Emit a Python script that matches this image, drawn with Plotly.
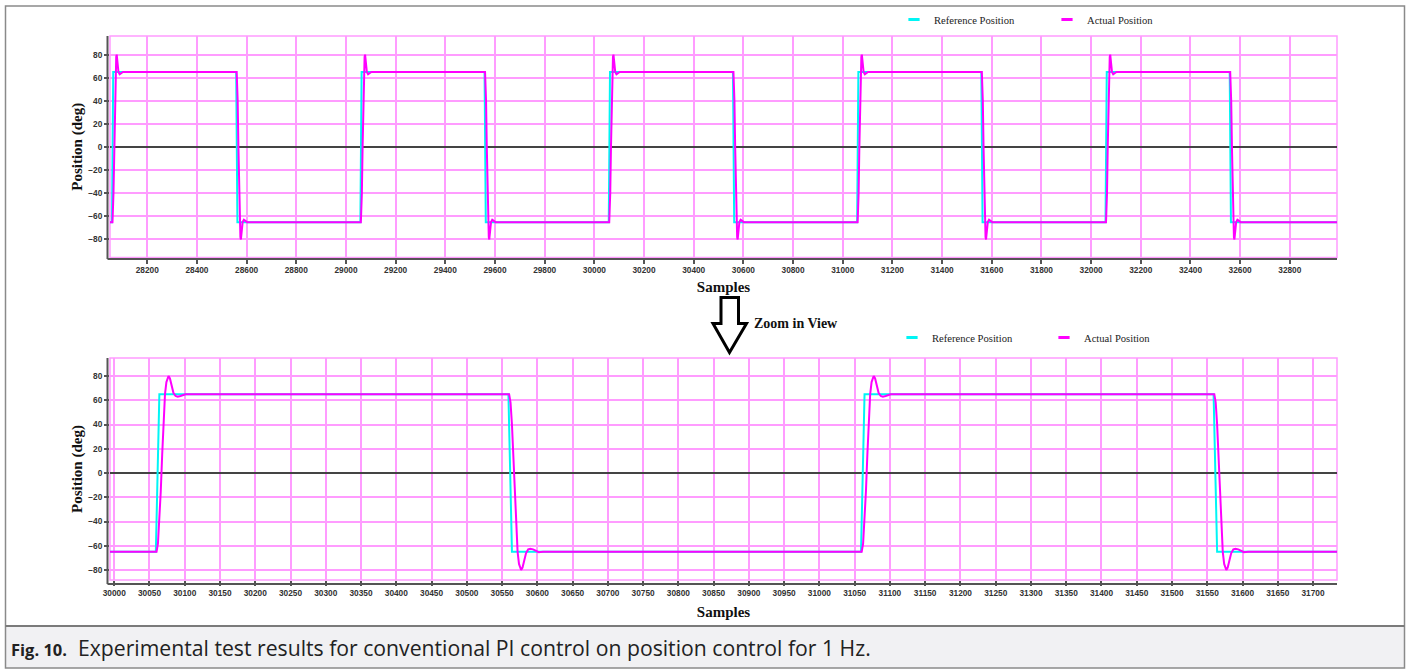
import plotly.graph_objects as go

# ---------------- data ----------------
# Top panel: full view
ref_top_x = [28050, 28058, 28063, 28558, 28563, 29058, 29063, 29558, 29563,
             30058, 30063, 30558, 30563, 31058, 31063, 31558, 31563,
             32058, 32063, 32558, 32563, 32990]
ref_top_y = [-65, -65, 65, 65, -65, -65, 65, 65, -65,
             -65, 65, 65, -65, -65, 65, 65, -65,
             -65, 65, 65, -65, -65]

act_top_x = [28050,
             28060, 28064, 28067, 28070, 28072, 28075, 28077, 28080, 28084, 28089, 28095, 28102,
             28560, 28564, 28567, 28570, 28572, 28575, 28577, 28580, 28584, 28589, 28595, 28602,
             29060, 29064, 29067, 29070, 29072, 29075, 29077, 29080, 29084, 29089, 29095, 29102,
             29560, 29564, 29567, 29570, 29572, 29575, 29577, 29580, 29584, 29589, 29595, 29602,
             30060, 30064, 30067, 30070, 30072, 30075, 30077, 30080, 30084, 30089, 30095, 30102,
             30560, 30564, 30567, 30570, 30572, 30575, 30577, 30580, 30584, 30589, 30595, 30602,
             31060, 31064, 31067, 31070, 31072, 31075, 31077, 31080, 31084, 31089, 31095, 31102,
             31560, 31564, 31567, 31570, 31572, 31575, 31577, 31580, 31584, 31589, 31595, 31602,
             32060, 32064, 32067, 32070, 32072, 32075, 32077, 32080, 32084, 32089, 32095, 32102,
             32560, 32564, 32567, 32570, 32572, 32575, 32577, 32580, 32584, 32589, 32595, 32602,
             32990]
act_top_y = [-65,
             -65, -40, 0, 45, 65, 78, 80, 74, 65, 63, 64, 65,
             65, 40, 0, -45, -65, -78, -80, -74, -65, -63, -64, -65,
             -65, -40, 0, 45, 65, 78, 80, 74, 65, 63, 64, 65,
             65, 40, 0, -45, -65, -78, -80, -74, -65, -63, -64, -65,
             -65, -40, 0, 45, 65, 78, 80, 74, 65, 63, 64, 65,
             65, 40, 0, -45, -65, -78, -80, -74, -65, -63, -64, -65,
             -65, -40, 0, 45, 65, 78, 80, 74, 65, 63, 64, 65,
             65, 40, 0, -45, -65, -78, -80, -74, -65, -63, -64, -65,
             -65, -40, 0, 45, 65, 78, 80, 74, 65, 63, 64, 65,
             65, 40, 0, -45, -65, -78, -80, -74, -65, -63, -64, -65,
             -65]

# Bottom panel: zoom-in view
ref_zoom_x = [29994, 30059, 30064, 30559, 30564, 31059, 31064, 31559, 31564, 31734]
ref_zoom_y = [-65, -65, 65, 65, -65, -65, 65, 65, -65, -65]

act_zoom_x = [29994,
              30060, 30062, 30064, 30066, 30068, 30070, 30072, 30074, 30076, 30077, 30079, 30081,
              30084, 30087, 30090, 30094, 30098, 30101,
              30560, 30562, 30564, 30566, 30568, 30570, 30572, 30574, 30576, 30577, 30579, 30581,
              30584, 30587, 30590, 30594, 30598, 30602, 30608,
              31060, 31062, 31064, 31066, 31068, 31070, 31072, 31074, 31076, 31077, 31079, 31081,
              31084, 31087, 31090, 31094, 31098, 31101,
              31560, 31562, 31564, 31566, 31568, 31570, 31572, 31574, 31576, 31577, 31579, 31581,
              31584, 31587, 31590, 31594, 31598, 31602, 31608,
              31734]
act_zoom_y = [-65,
              -65, -58, -40, -15, 15, 45, 65, 75, 79.5, 80, 78, 72,
              66, 63.5, 63, 63.5, 64.5, 65,
              65, 58, 40, 15, -15, -45, -65, -75, -79.5, -80, -78, -72,
              -66, -63, -62.5, -63, -64.2, -65.3, -65,
              -65, -58, -40, -15, 15, 45, 65, 75, 79.5, 80, 78, 72,
              66, 63.5, 63, 63.5, 64.5, 65,
              65, 58, 40, 15, -15, -45, -65, -75, -79.5, -80, -78, -72,
              -66, -63, -62.5, -63, -64.2, -65.3, -65,
              -65]

top_x_ticks = list(range(28200, 32801, 200))
zoom_x_ticks = list(range(30000, 31701, 50))
y_ticks = list(range(-80, 81, 20))

series_names = ["Reference Position", "Actual Position"]
caption_bold = "Fig. 10."
caption_text = "Experimental test results for conventional PI control on position control for 1 Hz."

# ---------------- styling ----------------
W, H = 1409, 672
CYAN = "#00f5f5"
MAG = "#ff00ff"
GRID = "#ff9cff"
AX = "#555555"


def px(x):
    return x / W


def py(y):
    return 1 - y / H


X_DOM = [px(110), px(1337)]
TOP_DOM = [py(257.5), py(36)]
BOT_DOM = [py(580), py(358)]

fig = go.Figure()

# top panel traces
fig.add_trace(go.Scatter(x=ref_top_x, y=ref_top_y, mode="lines", line=dict(color=CYAN, width=2),
                         xaxis="x", yaxis="y", showlegend=False, name=series_names[0]))
fig.add_trace(go.Scatter(x=act_top_x, y=act_top_y, mode="lines", line=dict(color=MAG, width=2),
                         xaxis="x", yaxis="y", showlegend=False, name=series_names[1]))
# bottom panel traces
fig.add_trace(go.Scatter(x=ref_zoom_x, y=ref_zoom_y, mode="lines", line=dict(color=CYAN, width=2),
                         xaxis="x2", yaxis="y2", showlegend=False, name=series_names[0]))
fig.add_trace(go.Scatter(x=act_zoom_x, y=act_zoom_y, mode="lines", line=dict(color=MAG, width=2),
                         xaxis="x2", yaxis="y2", showlegend=False, name=series_names[1]))

# legend entries (short dash symbols)
for lg in ["legend", "legend2"]:
    for nm, col in zip(series_names, [CYAN, MAG]):
        fig.add_trace(go.Scatter(x=[None], y=[None], mode="markers", name=nm, legend=lg,
                                 marker=dict(symbol="line-ew", size=8,
                                             line=dict(color=col, width=3)),
                                 xaxis="x" if lg == "legend" else "x2",
                                 yaxis="y" if lg == "legend" else "y2"))

tickfont = dict(family="Liberation Sans", size=8.3, color="#333333", weight="bold")
titlefont = dict(family="Liberation Serif", size=15, color="#111111", weight="bold")

common_x = dict(showgrid=True, gridcolor=GRID, gridwidth=1.5, zeroline=False,
                ticks="outside", ticklen=5, tickcolor=AX, tickwidth=1.5,
                tickfont=tickfont, showline=False, tickformat="d", automargin=False)
common_y = dict(showgrid=True, gridcolor=GRID, gridwidth=1.5, zeroline=True,
                zerolinecolor="#444444", zerolinewidth=1.5,
                ticks="outside", ticklen=5, tickcolor=AX, tickwidth=1.5,
                tickfont=tickfont, showline=False, tickvals=y_ticks, automargin=False)

fig.update_layout(
    width=W, height=H, autosize=False,
    margin=dict(l=0, r=0, t=0, b=0),
    paper_bgcolor="white", plot_bgcolor="white",
    xaxis=dict(domain=X_DOM, range=[28050, 32990], tickvals=top_x_ticks, anchor="y",
               title=dict(text="Samples", font=titlefont, standoff=7), **common_x),
    yaxis=dict(domain=TOP_DOM, range=[-95.6, 96.1], anchor="x",
               title=dict(text="Position (deg)", font=titlefont, standoff=2), **common_y),
    xaxis2=dict(domain=X_DOM, range=[29994, 31734], tickvals=zoom_x_ticks, anchor="y2",
                title=dict(text="Samples", font=titlefont, standoff=9), **common_x),
    yaxis2=dict(domain=BOT_DOM, range=[-88.25, 94.85], anchor="x2",
                title=dict(text="Position (deg)", font=titlefont, standoff=2), **common_y),
    legend=dict(orientation="h", x=px(894), y=py(5), xanchor="left", yanchor="top",
                font=dict(family="Liberation Serif", size=10.6, color="#222222"),
                entrywidth=108, itemwidth=30, bgcolor="rgba(0,0,0,0)", tracegroupgap=0),
    legend2=dict(orientation="h", x=px(892), y=py(323), xanchor="left", yanchor="top",
                 font=dict(family="Liberation Serif", size=10.6, color="#222222"),
                 entrywidth=107, itemwidth=30, bgcolor="rgba(0,0,0,0)", tracegroupgap=0),
    showlegend=True,
)

shapes = []
# plot-area pink borders
for xr, yr in [("x domain", "y domain"), ("x2 domain", "y2 domain")]:
    shapes.append(dict(type="rect", xref=xr, yref=yr, x0=0, x1=1, y0=0, y1=1,
                       line=dict(color=GRID, width=1.5), layer="below"))
# dark axis lines (slightly offset outside the plot area)
for top, bot in [(36, 259), (358, 584)]:
    shapes.append(dict(type="line", xref="paper", yref="paper",
                       x0=px(107.5), x1=px(107.5), y0=py(top), y1=py(bot),
                       line=dict(color=AX, width=2)))
    shapes.append(dict(type="line", xref="paper", yref="paper",
                       x0=px(107.5), x1=px(1337), y0=py(bot), y1=py(bot),
                       line=dict(color=AX, width=2)))
# outer figure frame & caption box
shapes.append(dict(type="rect", xref="paper", yref="paper", x0=px(5.5), x1=px(1404.5),
                   y0=py(668), y1=py(626), fillcolor="#f1f1f3", line=dict(width=0), layer="below"))
shapes.append(dict(type="rect", xref="paper", yref="paper", x0=px(5.5), x1=px(1404.5),
                   y0=py(668), y1=py(6), line=dict(color="#8a8a8a", width=1.5)))
shapes.append(dict(type="line", xref="paper", yref="paper", x0=px(5.5), x1=px(1404.5),
                   y0=py(626), y1=py(626), line=dict(color="#7a7a7a", width=2)))
# hollow down arrow
pts = [(721, 297.5), (738.5, 297.5), (738.5, 323.5), (746.5, 323.5), (729.5, 352.5),
       (713, 323.5), (721, 323.5)]
path = "M " + " L ".join(f"{px(a):.5f},{py(b):.5f}" for a, b in pts) + " Z"
shapes.append(dict(type="path", xref="paper", yref="paper", path=path,
                   line=dict(color="black", width=3), fillcolor="white"))
fig.update_layout(shapes=shapes)

fig.add_annotation(x=px(752), y=py(323), xref="paper", yref="paper", xanchor="left",
                   yanchor="middle", showarrow=False, text="Zoom in View",
                   font=dict(family="Liberation Serif", size=14, color="#111111", weight="bold"))
fig.add_annotation(x=px(9), y=py(647), xref="paper", yref="paper", xanchor="left",
                   yanchor="middle", showarrow=False,
                   text=(f"<b><span style='font-size:16.5px'>{caption_bold}</span></b>"
                         f"  {caption_text}"),
                   font=dict(family="Open Sans", size=21.2, color="#222222"))

fig.write_html("out.html", config={"responsive": False, "displayModeBar": False},
               post_script="document.body.style.margin='0';")
